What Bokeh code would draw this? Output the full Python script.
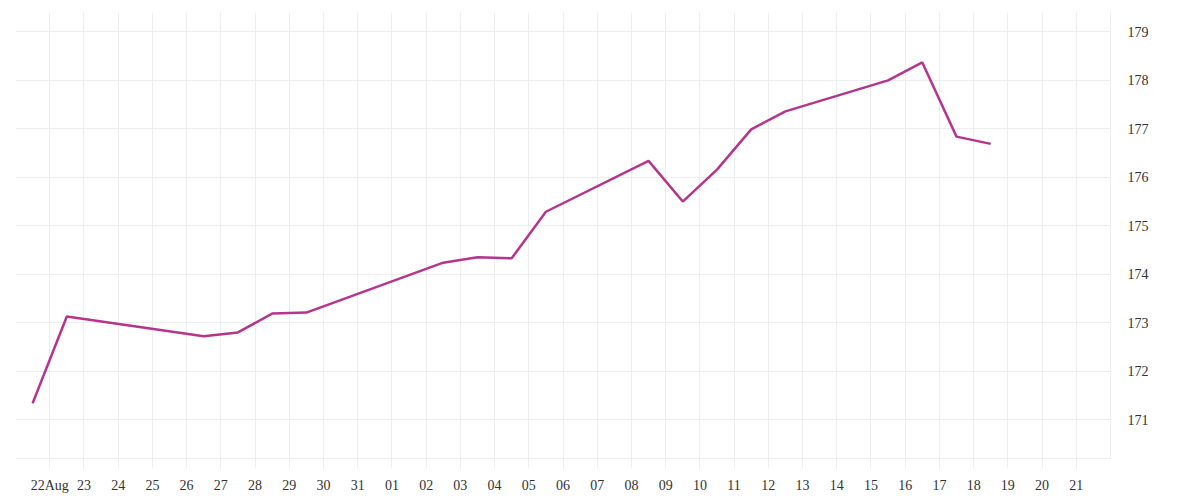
from datetime import datetime, timedelta
from bokeh.plotting import figure
from bokeh.models import FixedTicker, DatetimeTickFormatter, Range1d, ColumnDataSource
from bokeh.embed import file_html
from bokeh.resources import INLINE

# Data
dates = ["2023-08-21 12:00", "2023-08-22 12:00", "2023-08-26 12:00", "2023-08-27 12:00",
         "2023-08-28 12:00", "2023-08-29 12:00", "2023-09-02 12:00", "2023-09-03 12:00",
         "2023-09-04 12:00", "2023-09-05 12:00", "2023-09-08 12:00", "2023-09-09 12:00",
         "2023-09-10 12:00", "2023-09-11 12:00", "2023-09-12 12:00", "2023-09-15 12:00",
         "2023-09-16 12:00", "2023-09-17 12:00", "2023-09-18 12:00"]
values = [171.34, 173.13, 172.72, 172.80, 173.19, 173.21, 174.24, 174.35, 174.33, 175.29,
          176.34, 175.50, 176.16, 176.99, 177.36, 178.00, 178.37, 176.84, 176.69]
y_ticks = [171, 172, 173, 174, 175, 176, 177, 178, 179]

x = [datetime.strptime(d, "%Y-%m-%d %H:%M") for d in dates]
src = ColumnDataSource(data=dict(x=x, y=values))

epoch = datetime(1970, 1, 1)
def ms(d):
    return int((d - epoch).total_seconds() * 1000)

start = datetime(2023, 8, 21)
end = datetime(2023, 9, 22)
grid_days = [start + timedelta(days=i) for i in range(0, 33)]
label_days = grid_days[1:-1]

p = figure(x_axis_type="datetime", y_axis_location="right",
           frame_width=1095, frame_height=446,
           min_border_left=15, min_border_top=12, min_border_right=82, min_border_bottom=34,
           x_range=Range1d(start, end), y_range=Range1d(170.2, 179.4),
           output_backend="svg", toolbar_location=None)
p.outline_line_color = None
p.background_fill_color = "white"
p.border_fill_color = "white"

p.line("x", "y", source=src, line_color="#b5358c", line_width=2.5)

grid_col = "#eeeeee"
p.xgrid.ticker = FixedTicker(ticks=[ms(d) for d in grid_days])
p.ygrid.ticker = FixedTicker(ticks=y_ticks)
p.xgrid.grid_line_color = grid_col
p.ygrid.grid_line_color = grid_col

xa = p.xaxis[0]
xa.ticker = FixedTicker(ticks=[ms(d) for d in label_days], minor_ticks=[])
xa.formatter = DatetimeTickFormatter(days="%d", months="%d", hours="%d", years="%d")
xa.major_label_overrides = {ms(label_days[0]): "22Aug"}
xa.axis_line_color = grid_col
xa.major_tick_line_color = grid_col
xa.major_tick_out = 10
xa.major_tick_in = 0
xa.minor_tick_line_color = None
xa.major_label_standoff = 9
xa.major_label_text_font = "Liberation Serif"
xa.major_label_text_font_size = "14px"
xa.major_label_text_color = "#333333"

ya = p.yaxis[0]
ya.ticker = FixedTicker(ticks=y_ticks, minor_ticks=[])
ya.axis_line_color = grid_col
ya.major_tick_line_color = None
ya.major_tick_out = 0
ya.major_tick_in = 0
ya.minor_tick_line_color = None
ya.major_label_standoff = 17
ya.major_label_text_font = "Liberation Serif"
ya.major_label_text_font_size = "14px"
ya.major_label_text_color = "#333333"

open("out.html", "w").write(file_html(p, INLINE))
